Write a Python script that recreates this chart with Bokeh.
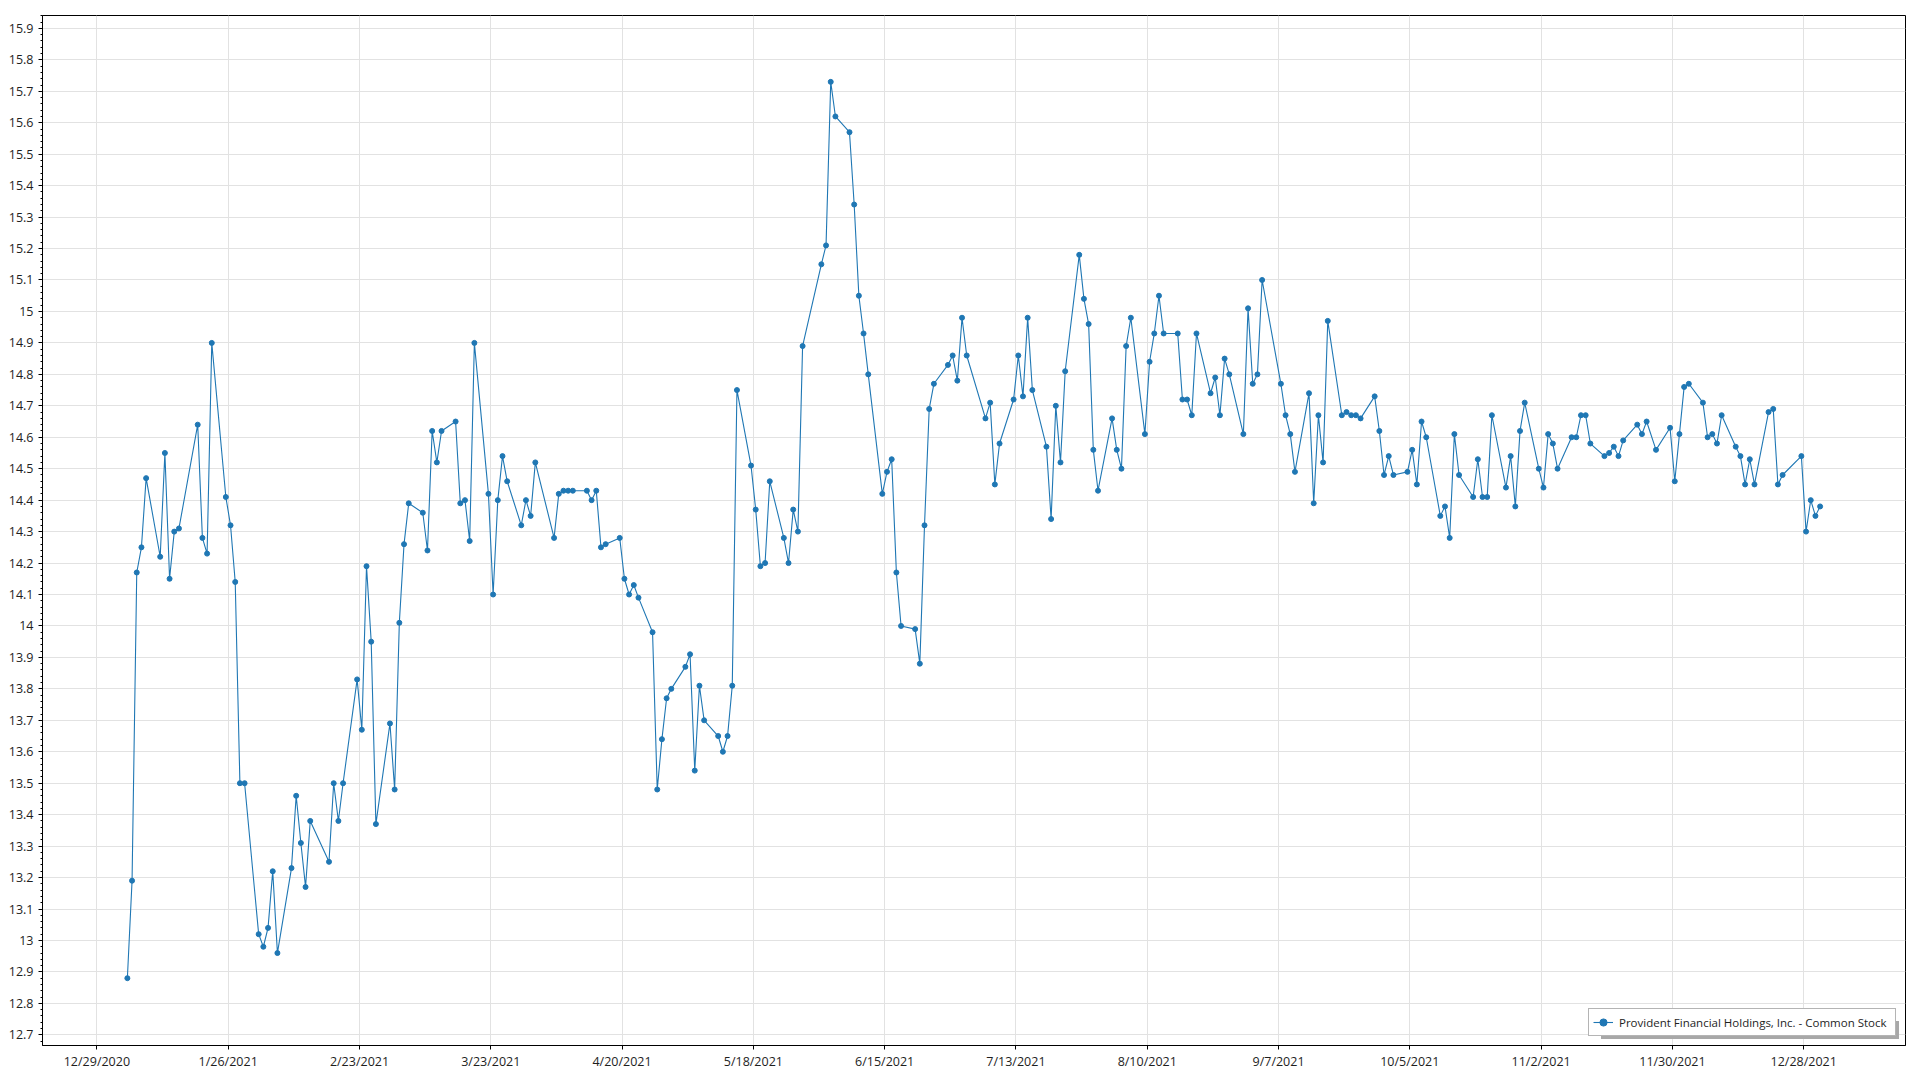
import pandas as pd
from bokeh.plotting import figure
from bokeh.models import (ColumnDataSource, Range1d, FixedTicker, SingleIntervalTicker,
                          CustomJSTickFormatter, Legend, LegendItem)
from bokeh.embed import file_html
from bokeh.resources import INLINE

# ---------------- data ----------------
series_name = "Provident Financial Holdings, Inc. - Common Stock"

# NYSE holidays of 2021 (non-trading weekdays)
holidays_2021 = ["2021-01-01", "2021-01-18", "2021-02-15", "2021-04-02", "2021-05-31",
                 "2021-07-05", "2021-09-06", "2021-11-25", "2021-12-24"]

jan = [12.88, 13.19, 14.17, 14.25, 14.47, 14.22, 14.55, 14.15, 14.30, 14.31,
       14.64, 14.28, 14.23, 14.90, 14.41, 14.32, 14.14, 13.50, 13.50]
feb = [13.02, 12.98, 13.04, 13.22, 12.96, 13.23, 13.46, 13.31, 13.17, 13.38,
       13.25, 13.50, 13.38, 13.50, 13.83, 13.67, 14.19, 13.95, 13.37]
mar = [13.69, 13.48, 14.01, 14.26, 14.39, 14.36, 14.24, 14.62, 14.52, 14.62,
       14.65, 14.39, 14.40, 14.27, 14.90, 14.42, 14.10, 14.40, 14.54, 14.46,
       14.32, 14.40, 14.35]
apr = [14.52, 14.28, 14.42, 14.43, 14.43, 14.43, 14.43, 14.40, 14.43, 14.25,
       14.26, 14.28, 14.15, 14.10, 14.13, 14.09, 13.98, 13.48, 13.64, 13.77, 13.80]
may = [13.87, 13.91, 13.54, 13.81, 13.70, 13.65, 13.60, 13.65, 13.81, 14.75,
       14.51, 14.37, 14.19, 14.20, 14.46, 14.28, 14.20, 14.37, 14.30, 14.89]
jun = [15.15, 15.21, 15.73, 15.62, 15.57, 15.34, 15.05, 14.93, 14.80, 14.42,
       14.49, 14.53, 14.17, 14.00, 13.99, 13.88, 14.32, 14.69, 14.77, 14.83,
       14.86, 14.78]
jul = [14.98, 14.86, 14.66, 14.71, 14.45, 14.58, 14.72, 14.86, 14.73, 14.98,
       14.75, 14.57, 14.34, 14.70, 14.52, 14.81, 15.18, 15.04, 14.96, 14.56, 14.43]
aug = [14.66, 14.56, 14.50, 14.89, 14.98, 14.61, 14.84, 14.93, 15.05, 14.93,
       14.93, 14.72, 14.72, 14.67, 14.93, 14.74, 14.79, 14.67, 14.85, 14.80,
       14.61, 15.01]
sep = [14.77, 14.80, 15.10, 14.77, 14.67, 14.61, 14.49, 14.74, 14.39, 14.67,
       14.52, 14.97, 14.67, 14.68, 14.67, 14.67, 14.66, 14.73, 14.62, 14.48, 14.54]
oct_ = [14.48, 14.49, 14.56, 14.45, 14.65, 14.60, 14.35, 14.38, 14.28, 14.61,
        14.48, 14.41, 14.53, 14.41, 14.41, 14.67, 14.44, 14.54, 14.38, 14.62, 14.71]
nov = [14.50, 14.44, 14.61, 14.58, 14.50, 14.60, 14.60, 14.67, 14.67, 14.58,
       14.54, 14.55, 14.57, 14.54, 14.59, 14.64, 14.61, 14.65, 14.56, 14.63, 14.46]
dec = [14.61, 14.76, 14.77, 14.71, 14.60, 14.61, 14.58, 14.67, 14.57, 14.54,
       14.45, 14.53, 14.45, 14.68, 14.69, 14.45, 14.48, 14.54, 14.30, 14.40,
       14.35, 14.38]

x_tick_labels = ["12/29/2020", "1/26/2021", "2/23/2021", "3/23/2021", "4/20/2021",
                 "5/18/2021", "6/15/2021", "7/13/2021", "8/10/2021", "9/7/2021",
                 "10/5/2021", "11/2/2021", "11/30/2021", "12/28/2021"]

# ---------------- build ----------------
closes = jan + feb + mar + apr + may + jun + jul + aug + sep + oct_ + nov + dec
dates = pd.bdate_range("2021-01-01", "2021-12-31", freq="C", holidays=holidays_2021)
assert len(dates) == len(closes), (len(dates), len(closes))

source = ColumnDataSource(data=dict(date=dates, close=closes))

FONT = "Open Sans"
BLUE = "#1f77b4"

p = figure(width=1912, height=1072, x_axis_type="datetime",
           output_backend="svg", toolbar_location=None,
           x_range=Range1d(start=pd.Timestamp("2020-12-16 21:36"),
                           end=pd.Timestamp("2022-01-18 05:00")),
           y_range=Range1d(start=12.666, end=15.941),
           min_border_left=42, min_border_right=7, min_border_top=15,
           min_border_bottom=22)
p.background_fill_color = "white"
p.border_fill_color = "white"
p.outline_line_color = "black"
p.outline_line_width = 1

# x axis ticks (half a day before midnight, as in the reference)
half_day = pd.Timedelta(hours=12)
tick_pos = [(pd.Timestamp(pd.to_datetime(t, format="%m/%d/%Y")) - half_day).value / 1e6
            for t in x_tick_labels]
p.xaxis.ticker = FixedTicker(ticks=tick_pos)
p.xaxis.formatter = CustomJSTickFormatter(
    args=dict(pos=tick_pos, lab=x_tick_labels),
    code="""
    let best = 0, bd = Infinity;
    for (let i = 0; i < pos.length; i++) {
        const d = Math.abs(pos[i] - tick);
        if (d < bd) { bd = d; best = i; }
    }
    return lab[best];
    """)

p.yaxis.ticker = SingleIntervalTicker(interval=0.1, num_minor_ticks=5)
p.yaxis.formatter = CustomJSTickFormatter(code="return (Math.round(tick * 10) / 10).toString();")

for ax in (p.xaxis[0], p.yaxis[0]):
    ax.axis_line_color = "black"
    ax.axis_line_width = 1
    ax.major_tick_line_color = "black"
    ax.minor_tick_line_color = "black"
    ax.major_tick_in = 0
    ax.major_tick_out = 4
    ax.minor_tick_in = 0
    ax.minor_tick_out = 2
    ax.major_label_text_font = FONT
    ax.major_label_text_font_size = "12.5px"
    ax.major_label_text_color = "#1e1e1e"
p.xaxis.major_label_standoff = 3
p.yaxis.major_label_standoff = 5

p.xgrid.grid_line_color = "#e2e2e2"
p.ygrid.grid_line_color = "#e2e2e2"
p.xgrid.grid_line_width = 1
p.ygrid.grid_line_width = 1

line_r = p.line(x="date", y="close", source=source, line_color=BLUE, line_width=1.1)
pts_r = p.scatter(x="date", y="close", source=source, size=5,
                  fill_color=BLUE, line_color=BLUE)

# invisible renderer used only to size the legend's drop shadow
ghost_r = p.line(x=[], y=[], line_alpha=0)


def style_legend(lg, margin):
    lg.location = "bottom_right"
    lg.margin = margin
    lg.padding = 4
    lg.spacing = 0
    lg.glyph_width = 20
    lg.glyph_height = 18
    lg.label_height = 18
    lg.label_width = 272
    lg.label_standoff = 6
    lg.label_text_font = FONT
    lg.label_text_font_size = "11.5px"


# drop shadow: same box size, no text, offset 3px right/down
shadow = Legend(items=[LegendItem(label="", renderers=[ghost_r])])
style_legend(shadow, 6)
shadow.border_line_color = None
shadow.background_fill_color = "#a8a8a8"
shadow.background_fill_alpha = 1.0
p.add_layout(shadow)

legend = Legend(items=[LegendItem(label=series_name, renderers=[line_r, pts_r])])
style_legend(legend, 9)
legend.label_text_color = "#1e1e1e"
legend.border_line_color = "#6a6a6a"
legend.border_line_width = 1.5
legend.background_fill_color = "white"
legend.background_fill_alpha = 1.0
p.add_layout(legend)

open("out.html", "w").write(file_html(p, INLINE))
